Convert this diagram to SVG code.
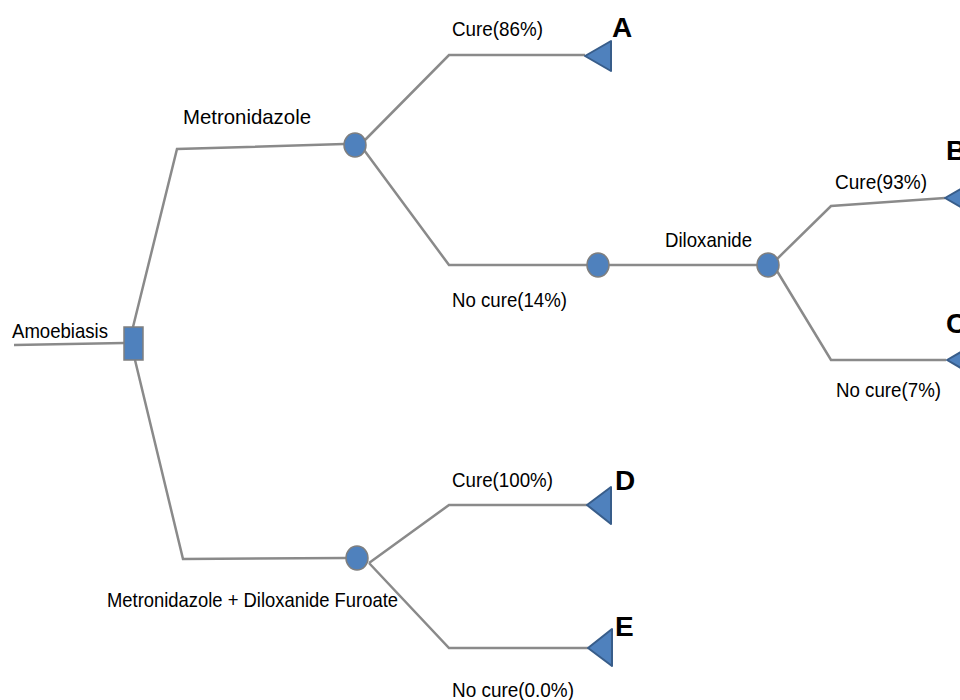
<svg xmlns="http://www.w3.org/2000/svg" width="960" height="700" viewBox="0 0 960 700">
<style>
.c{fill:none;stroke:#8a8a8a;stroke-width:2.5;stroke-linejoin:miter}
.ch{fill:#4f81bd;stroke:#7f7f7f;stroke-width:1.5}
.tr{fill:#4f81bd;stroke:#385d8a;stroke-width:2;stroke-linejoin:round}
.sq{fill:#4f81bd;stroke:#7f7f7f;stroke-width:1.5}
.t{font-family:"Liberation Sans",Arial,sans-serif;font-size:21px;fill:#000}
.l{font-family:"Liberation Sans",Arial,sans-serif;font-size:28px;font-weight:bold;fill:#000}
</style>
<rect width="960" height="700" fill="#fff"/>
<g id="connectors">
<path class="c" d="M14,345 L124,343"/>
<path class="c" d="M133,327 L177,149 L344,144"/>
<path class="c" d="M135,360 L183,559 L346,558"/>
<path class="c" d="M364,141 L449,55 L585,55"/>
<path class="c" d="M364,150 L449,265 L587,265"/>
<path class="c" d="M609,265 L757,265"/>
<path class="c" d="M777,259 L831,206 L945,198"/>
<path class="c" d="M777,271 L831,360 L946,360"/>
<path class="c" d="M369,563 L449,505 L587,505"/>
<path class="c" d="M369,563 L449,648 L588,648"/>
</g>
<g id="root"><rect class="sq" x="124" y="327" width="19" height="33"/></g>
<g id="chance1"><ellipse class="ch" cx="355" cy="145" rx="11" ry="12"/></g>
<g id="chance2"><ellipse class="ch" cx="598" cy="265" rx="11" ry="12"/></g>
<g id="chance3"><ellipse class="ch" cx="768" cy="265" rx="11" ry="12"/></g>
<g id="chance4"><ellipse class="ch" cx="357" cy="558" rx="11" ry="12"/></g>
<g id="endA"><polygon class="tr" points="585,56 611,41 611,71"/><text class="l" x="612" y="37">A</text></g>
<g id="endB"><polygon class="tr" points="945,198 971,183 971,213"/><text class="l" x="946" y="160">B</text></g>
<g id="endC"><polygon class="tr" points="947,360 973,345 973,375"/><text class="l" x="946" y="333">C</text></g>
<g id="endD"><polygon class="tr" points="587,505 611,487 611,524"/><text class="l" x="615" y="490">D</text></g>
<g id="endE"><polygon class="tr" points="588,648 612,629 612,666"/><text class="l" x="615" y="636">E</text></g>
<g id="labels">
<text class="t" x="12" y="338" textLength="96" lengthAdjust="spacingAndGlyphs">Amoebiasis</text>
<text class="t" x="183" y="124" textLength="128" lengthAdjust="spacingAndGlyphs">Metronidazole</text>
<text class="t" x="452" y="36" textLength="91" lengthAdjust="spacingAndGlyphs">Cure(86%)</text>
<text class="t" x="452" y="307" textLength="115" lengthAdjust="spacingAndGlyphs">No cure(14%)</text>
<text class="t" x="665" y="247" textLength="87" lengthAdjust="spacingAndGlyphs">Diloxanide</text>
<text class="t" x="835" y="189" textLength="92" lengthAdjust="spacingAndGlyphs">Cure(93%)</text>
<text class="t" x="836" y="397" textLength="105" lengthAdjust="spacingAndGlyphs">No cure(7%)</text>
<text class="t" x="452" y="487" textLength="101" lengthAdjust="spacingAndGlyphs">Cure(100%)</text>
<text class="t" x="107" y="607" textLength="291" lengthAdjust="spacingAndGlyphs">Metronidazole + Diloxanide Furoate</text>
<text class="t" x="452" y="697" textLength="122" lengthAdjust="spacingAndGlyphs">No cure(0.0%)</text>
</g>
</svg>
